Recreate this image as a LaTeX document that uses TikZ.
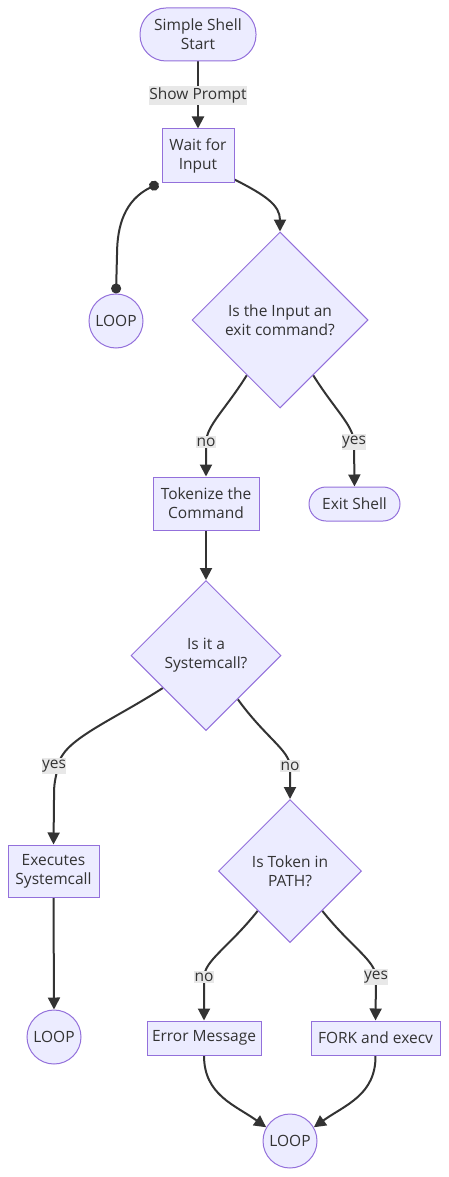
\documentclass[tikz,border=0pt]{standalone}
\usepackage{fontspec}
\setmainfont{Open Sans}
\usetikzlibrary{shapes.geometric,arrows.meta,backgrounds}
\definecolor{nodefill}{HTML}{ECECFF}
\definecolor{nodeline}{HTML}{9370DB}
\definecolor{edgecol}{HTML}{333333}
\definecolor{txtcol}{HTML}{333333}
\definecolor{lblbg}{HTML}{E8E8E8}
\tikzset{
  base/.style={fill=nodefill, draw=nodeline, line width=1pt, text=txtcol, align=center,
    font=\fontsize{15.5}{19}\selectfont, inner sep=0pt},
  rectbox/.style={base, rectangle},
  stadium/.style={base, rectangle, rounded corners=#1},
  loopcirc/.style={base, circle, minimum size=54pt},
  decision/.style={base, diamond, aspect=1},
  lbl/.style={fill=lblbg, text=txtcol, font=\fontsize{15.5}{19}\selectfont, inner xsep=0.5pt, inner ysep=1.5pt},
  edge/.style={draw=edgecol, line width=2pt},
  arr/.style={edge, -{Triangle[length=12pt,width=12pt]}},
  dotted ends/.style={edge, {Circle[length=10pt]}-{Circle[length=10pt]}},
}
\begin{document}
\begin{tikzpicture}[x=1pt,y=-1pt]
\useasboundingbox (0,0) rectangle (449,1177);
% nodes
\node[stadium=26pt, minimum width=116pt, minimum height=53pt] (start) at (198,34.5) {Simple Shell\\Start};
\node[rectbox, minimum width=72pt, minimum height=54pt] (wait) at (198,156) {Wait for\\Input};
\node[loopcirc] (loop1) at (116,321) {LOOP};
\node[decision, minimum width=176pt, minimum height=176pt] (d1) at (280,320) {Is the Input an\\exit command?};
\node[rectbox, minimum width=106pt, minimum height=53pt] (tok) at (206,503.5) {Tokenize the\\Command};
\node[stadium=17pt, minimum width=91pt, minimum height=34pt] (exit) at (354.5,504) {Exit Shell};
\node[decision, minimum width=150pt, minimum height=150pt] (d2) at (206,655.5) {Is it a\\Systemcall?};
\node[rectbox, minimum width=91pt, minimum height=52pt] (exec) at (53.5,871) {Executes\\Systemcall};
\node[decision, minimum width=143pt, minimum height=143pt] (d3) at (290,871) {Is Token in\\PATH?};
\node[loopcirc] (loop2) at (54,1037) {LOOP};
\node[rectbox, minimum width=114pt, minimum height=34pt] (err) at (204,1038) {Error Message};
\node[rectbox, minimum width=129pt, minimum height=34pt] (fork) at (375.5,1038) {FORK and execv};
\node[loopcirc] (loop3) at (290,1141) {LOOP};
% edge labels
\node[lbl] (showp) at (198,95.5) {Show Prompt};
\node[lbl] (no1) at (206,442) {no};
\node[lbl] (yes1) at (354,442) {yes};
\node[lbl] (yes2) at (54,766) {yes};
\node[lbl] (no2) at (290,766) {no};
\node[lbl] (no3) at (204,977) {no};
\node[lbl] (yes3) at (376,977) {yes};
% edges
\begin{scope}[on background layer]
\draw[arr] (start.south) -- (wait.north);
\draw[dotted ends] ([xshift=-3pt]wait.south west) .. controls (125,200) and (117,225) .. (117,255) -- (loop1.north);
\draw[arr] ([yshift=4pt]wait.south east) .. controls (265,195) and (280,205) .. (d1.north);
\draw[arr] (d1.239) .. controls (225,410) and (207,425) .. (no1.center) -- (tok.north);
\draw[arr] (d1.301) .. controls (335,410) and (353,425) .. (yes1.center) -- (exit.north);
\draw[arr] (d2.217) .. controls (110,722) and (62,740) .. ([xshift=4pt]yes2.center) .. controls (54,785) .. (54,800) -- (exec.north);
\draw[arr] (tok.south) -- (d2.north);
\draw[arr] (d2.306) .. controls (265,737) and (289,750) .. (no2.center) -- (d3.north);
\draw[arr] (exec.south) -- (loop2.north);
\draw[arr] (d3.231) .. controls (228,948) and (205,960) .. (no3.center) -- (err.north);
\draw[arr] (d3.309) .. controls (352,948) and (375,960) .. (yes3.center) -- (fork.north);
\draw[arr] (err.south) .. controls (204,1095) and (235,1105) .. (loop3.150);
\draw[arr] (fork.south) .. controls (376,1095) and (345,1105) .. (loop3.30);
\end{scope}
\end{tikzpicture}
\end{document}
